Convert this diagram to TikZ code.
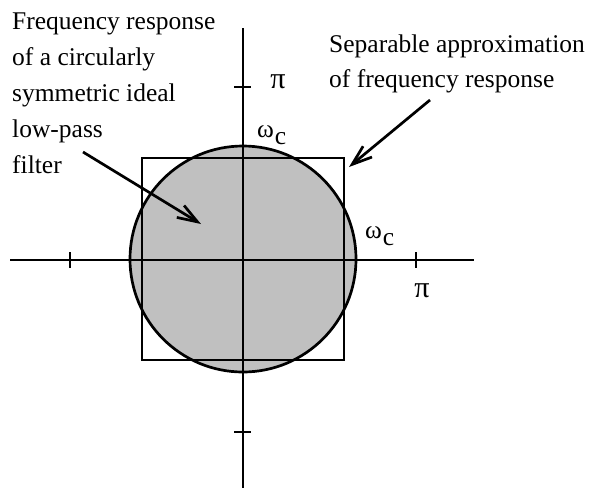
\documentclass[tikz,border=0pt]{standalone}
\usepackage{fontspec}
\setmainfont{Liberation Serif}
\usetikzlibrary{arrows.meta}
\begin{document}
\begin{tikzpicture}[x=1pt,y=-1pt,
  axisline/.style={line width=2.7pt},
  pointer/.style={line width=2.7pt,-{Straight Barb[length=20pt,width=14pt,line width=2.7pt]}},
  lbl/.style={inner sep=0pt,font=\fontsize{25.5}{36}\selectfont},
  ]
\useasboundingbox (0,0) rectangle (593,488);
% circle and square
\node[draw,line width=2.7pt,fill={rgb,255:red,192;green,192;blue,192},circle,minimum size=226pt,inner sep=0pt] (circ) at (243,259) {};
\node[draw,line width=2.7pt,minimum size=202pt,inner sep=0pt] (sq) at (243,259) {};
% axes
\coordinate (xl) at (10,260);
\coordinate (xr) at (474,260);
\coordinate (yt) at (243,28);
\coordinate (yb) at (243,488);
\draw[axisline] (xl) -- (xr);
\draw[axisline] (yt) -- (yb);
% ticks
\coordinate (t1a) at (70,252); \coordinate (t1b) at (70,268);
\coordinate (t2a) at (416,252); \coordinate (t2b) at (416,268);
\coordinate (t3a) at (234,87); \coordinate (t3b) at (251,87);
\coordinate (t4a) at (234,432); \coordinate (t4b) at (251,432);
\draw[axisline] (t1a) -- (t1b);
\draw[axisline] (t2a) -- (t2b);
\draw[axisline] (t3a) -- (t3b);
\draw[axisline] (t4a) -- (t4b);
% labels
\node[lbl,anchor=base] (pitop) at (278,88) {\scalebox{1.18}{π}};
\node[lbl,anchor=base] (pibot) at (422,297) {\scalebox{1.18}{π}};
\node[lbl,anchor=base west] (wctop) at (257,137) {ω\hspace{1pt}\raisebox{-7pt}{c}};
\node[lbl,anchor=base west] (wcright) at (365,238) {ω\hspace{1pt}\raisebox{-7pt}{c}};
% texts
\node[lbl,anchor=base west,align=left] (lefttext) at (12,173) {Frequency response\\of a circularly\\symmetric ideal\\low-pass\\filter};
\node[lbl,anchor=base west,align=left,font=\fontsize{25.5}{35}\selectfont] (righttext) at (329,87) {Separable approximation\\of frequency response};
% arrows
\coordinate (a1s) at (83,152);
\coordinate (a1e) at (201,224);
\coordinate (a2s) at (430,100);
\coordinate (a2e) at (349,167);
\draw[pointer] (a1s) -- (a1e);
\draw[pointer] (a2s) -- (a2e);
\end{tikzpicture}
\end{document}
